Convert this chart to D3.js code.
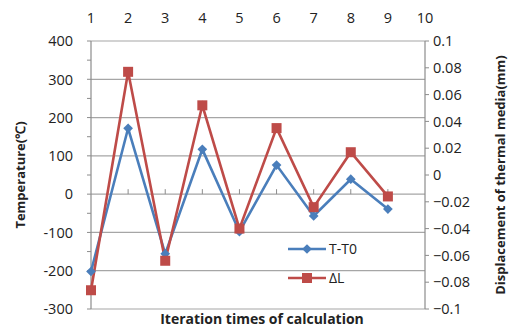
<!DOCTYPE html>
<html>
<head>
<meta charset="utf-8">
<script src="https://cdn.jsdelivr.net/npm/d3@7"></script>
<style>
  body { margin: 0; background: #fff; }
  text { font-family: "Open Sans", sans-serif; fill: #222; }
</style>
</head>
<body>
<div id="chart"></div>
<script>
// data
const iterations = [1, 2, 3, 4, 5, 6, 7, 8, 9];
const tempDiff = [-202, 172, -156, 117, -98, 76, -57, 39, -39];
const deltaL = [-0.086, 0.077, -0.064, 0.052, -0.040, 0.035, -0.024, 0.017, -0.016];
const topTicks = [1, 2, 3, 4, 5, 6, 7, 8, 9, 10];
const leftTicks = [-300, -200, -100, 0, 100, 200, 300, 400];
const rightTicks = [-0.1, -0.08, -0.06, -0.04, -0.02, 0, 0.02, 0.04, 0.06, 0.08, 0.1];

const W = 510, H = 329;
const margin = {top: 41, right: 85, bottom: 20, left: 91};
const width = W - margin.left - margin.right,
  height = H - margin.top - margin.bottom;

const axisColor = "#8c8c8c";
const blue = "#4a7ebb", red = "#be4b48";

const svg = d3.select("#chart").append("svg")
    .attr("width", W)
    .attr("height", H)
  .append("g")
    .attr("transform", "translate(" + margin.left + "," + margin.top + ")");

let x = d3.scaleLinear().domain([1, 10]).range([0, width]);
let yL = d3.scaleLinear().domain([-300, 400]).range([height, 0]);
let yR = d3.scaleLinear().domain([-0.1, 0.1]).range([height, 0]);

// gridlines
svg.append("g")
  .selectAll("line").data(leftTicks)
  .enter().append("line")
    .attr("x1", 0).attr("x2", width)
    .attr("y1", d => yL(d)).attr("y2", d => yL(d))
    .attr("stroke", "#a6a6a6").attr("stroke-width", 1.2);

// left axis with minor ticks
const minor = d3.range(-300, 401, 50);
const left = svg.append("g").attr("class", "axis");
left.append("line").attr("x1", 0).attr("x2", 0).attr("y1", 0).attr("y2", height)
  .attr("stroke", axisColor).attr("stroke-width", 1.2);
left.selectAll(".tk").data(minor).enter().append("line")
  .attr("x1", -4).attr("x2", 0)
  .attr("y1", d => yL(d)).attr("y2", d => yL(d))
  .attr("stroke", axisColor);
left.selectAll("text").data(leftTicks).enter().append("text")
  .attr("x", -18).attr("y", d => yL(d)).attr("dy", "0.36em")
  .attr("text-anchor", "end").attr("font-size", 14.5)
  .text(d => d);

// right axis
const right = svg.append("g").attr("transform", "translate(" + width + ",0)");
right.append("line").attr("x1", 0).attr("x2", 0).attr("y1", 0).attr("y2", height)
  .attr("stroke", axisColor).attr("stroke-width", 1.2);
right.selectAll(".tk").data(rightTicks).enter().append("line")
  .attr("x1", 0).attr("x2", 4)
  .attr("y1", d => yR(d)).attr("y2", d => yR(d))
  .attr("stroke", axisColor);
right.selectAll("text").data(rightTicks).enter().append("text")
  .attr("x", 8).attr("y", d => yR(d)).attr("dy", "0.36em")
  .attr("font-size", 14.5)
  .text(d => d3.format("~g")(+d.toFixed(2)));

// category ticks on the zero line
svg.append("g").selectAll("line").data(topTicks.slice(1, 9))
  .enter().append("line")
    .attr("x1", d => x(d)).attr("x2", d => x(d))
    .attr("y1", yL(0) - 5).attr("y2", yL(0))
    .attr("stroke", axisColor);

// top labels
svg.append("g").selectAll("text").data(topTicks)
  .enter().append("text")
    .attr("x", d => x(d)).attr("y", -23).attr("dy", "0.36em")
    .attr("text-anchor", "middle").attr("font-size", 14.5)
    .text(d => d);

// series
const lineT = d3.line().x((d, i) => x(iterations[i])).y(d => yL(d));
const lineD = d3.line().x((d, i) => x(iterations[i])).y(d => yR(d));

svg.append("path").datum(tempDiff)
  .attr("d", lineT).attr("fill", "none")
  .attr("stroke", blue).attr("stroke-width", 2.6);
svg.append("path").datum(deltaL)
  .attr("d", lineD).attr("fill", "none")
  .attr("stroke", red).attr("stroke-width", 2.6);

const diamond = d3.symbol().type(d3.symbolDiamond2).size(60);
svg.append("g").selectAll("path").data(tempDiff)
  .enter().append("path")
    .attr("d", diamond)
    .attr("transform", (d, i) => "translate(" + x(iterations[i]) + "," + yL(d) + ")")
    .attr("fill", blue);
svg.append("g").selectAll("rect").data(deltaL)
  .enter().append("rect")
    .attr("x", (d, i) => x(iterations[i]) - 5)
    .attr("y", d => yR(d) - 5)
    .attr("width", 10).attr("height", 10)
    .attr("fill", red);

// legend
const legend = svg.append("g").attr("transform", "translate(" + (288 - margin.left) + "," + (249 - margin.top) + ")");
legend.append("line").attr("x1", 0).attr("x2", 38).attr("y1", 0).attr("y2", 0)
  .attr("stroke", blue).attr("stroke-width", 2.6);
legend.append("path").attr("d", diamond).attr("transform", "translate(19,0)").attr("fill", blue);
legend.append("text").attr("x", 41).attr("y", 0).attr("dy", "0.36em").attr("font-size", 14).text("T-T0");
legend.append("line").attr("x1", 0).attr("x2", 38).attr("y1", 29).attr("y2", 29)
  .attr("stroke", red).attr("stroke-width", 2.6);
legend.append("rect").attr("x", 14).attr("y", 24).attr("width", 10).attr("height", 10).attr("fill", red);
legend.append("text").attr("x", 41).attr("y", 29).attr("dy", "0.36em").attr("font-size", 14).text("ΔL");

// axis titles
svg.append("text")
  .attr("transform", "translate(" + (20 - margin.left) + "," + (height / 2) + ") rotate(-90)")
  .attr("dy", "0.36em")
  .attr("text-anchor", "middle").attr("font-size", 13).attr("font-weight", "bold")
  .text("Temperature(℃)");
svg.append("text")
  .attr("transform", "translate(" + (500 - margin.left) + "," + (height / 2) + ") rotate(-90)")
  .attr("dy", "0.36em")
  .attr("text-anchor", "middle").attr("font-size", 13).attr("font-weight", "bold")
  .text("Displacement of thermal media(mm)");
svg.append("text")
  .attr("x", 262 - margin.left).attr("y", 324 - margin.top)
  .attr("text-anchor", "middle").attr("font-size", 14).attr("font-weight", "bold")
  .text("Iteration times of calculation");
</script>
</body>
</html>
